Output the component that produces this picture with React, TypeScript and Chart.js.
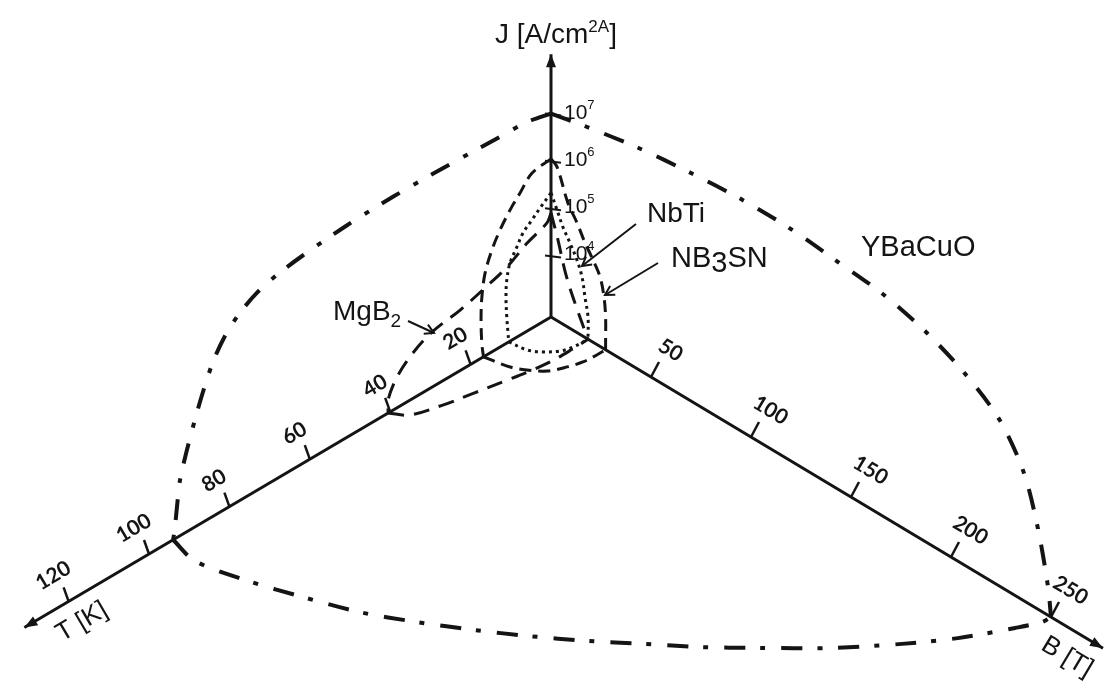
import { useEffect, useRef } from "react";
import { Chart, registerables } from "chart.js";

Chart.register(...registerables);

// ---------------- axes (physical values) ----------------
const J_ORIGIN = 500; // A/cm² at the corner where the three axes meet
const T_AXIS_END = 131; // K
const B_AXIS_END = 276; // T
const J_AXIS_END = 1.8e8; // A/cm²
const T_TICKS = [20, 40, 60, 80, 100, 120];
const B_TICKS = [50, 100, 150, 200, 250];
const J_TICK_EXPONENTS = [4, 5, 6, 7];

// ---------------- YBaCuO (dash-dot) ----------------
const YBCO_JT_T = [0, 6, 14, 26, 39, 51, 62, 68, 73, 77.4, 81.1, 84.1, 86.6, 88.6, 90.6, 92.3, 93.0, 93.6, 94];
const YBCO_JT_J = [1.0e7, 1.32e7, 1.41e7, 1.55e7, 1.62e7, 1.51e7, 1.23e7, 1.02e7, 7.6e6, 4.6e6, 2.3e6, 9.1e5, 2.8e5, 9.1e4, 2.6e4, 7.4e3, 2.4e3, 800, 500];
const YBCO_JB_B = [0, 16.5, 43.5, 70, 95, 120, 143, 166.5, 188, 207.5, 224.5, 236.5, 243.5, 248.5, 250];
const YBCO_JB_J = [1.0e7, 1.45e7, 2.4e7, 3.3e7, 4.0e7, 4.0e7, 3.2e7, 2.45e7, 1.35e7, 5.5e6, 1.6e6, 2.5e5, 2.5e4, 2.0e3, 500];
const YBCO_TB_T = [94, 95.7, 93.2, 89.7, 85.7, 80.7, 75.2, 69.5, 63.2, 56.8, 50.2, 43.2, 34.2, 24.3, 16.1, 6.8, 2.2, 0];
const YBCO_TB_B = [0, 14.3, 35.9, 56.2, 76.7, 94.7, 112.2, 128.6, 145.1, 160.2, 175.9, 190.4, 208.3, 224.4, 235.8, 245.7, 249.9, 250];

// ---------------- Nb3Sn (short dashes) ----------------
const NB3SN_JT_T = [0, 4.7, 7.7, 10.2, 12.7, 14.7, 16.4, 17.2, 17.4, 17.2, 16.8];
const NB3SN_JT_J = [1.1e6, 9.5e5, 5.1e5, 2.95e5, 1.48e5, 7.1e4, 2.8e4, 9.5e3, 3.2e3, 1.0e3, 500];
const NB3SN_TB_T = [16.8, 15.6, 14.1, 11.8, 8.4, 5.4, 2.2, 0];
const NB3SN_TB_B = [0, 10.9, 16.3, 21.7, 25.0, 26.8, 27.3, 27.3];
const NB3SN_JB_B = [0, 3, 8.5, 13, 17, 21, 24.5, 26.5, 27.3, 27.3, 27.3];
const NB3SN_JB_J = [1.1e6, 8.9e5, 2.1e5, 1.05e5, 5.0e4, 2.75e4, 1.48e4, 6.2e3, 2.4e3, 680, 500];

// ---------------- NbTi (dotted) ----------------
const NBTI_JT_T = [0, 2.7, 4.7, 7.0, 8.5, 10.2, 11.0, 11.2, 11.0, 10.7, 10.5];
const NBTI_JT_J = [2.1e5, 1.38e5, 9.8e4, 6.6e4, 4.0e4, 2.24e4, 1.07e4, 4.8e3, 1.78e3, 800, 500];
const NBTI_TB_T = [10.5, 9.9, 8.3, 6.0, 3.5, 0];
const NBTI_TB_B = [0, 7.9, 12.7, 16.5, 18.1, 18.5];
const NBTI_JB_B = [0, 3, 6, 9.5, 13, 15.5, 17, 18.5, 18.5];
const NBTI_JB_J = [2.1e5, 1.1e5, 5.6e4, 3.2e4, 1.7e4, 8.7e3, 3.5e3, 1.48e3, 500];

// ---------------- MgB2 (long dashes) ----------------
const MGB2_JT_T = [0, 1, 6, 11, 16, 22.6, 29.4, 34.3, 38.3, 40.5, 40.5];
const MGB2_JT_J = [7.9e4, 5.5e4, 3.6e4, 2.0e4, 1.41e4, 9.5e3, 7.4e3, 4.6e3, 2.24e3, 955, 500];
const MGB2_TB_T = [40.5, 38.2, 32, 25.6, 19.2, 13.9, 9.3, 4, 0];
const MGB2_TB_B = [0, 6.25, 10.2, 12.9, 15.5, 17.5, 18.7, 18.8, 18.5];
const MGB2_JB_B = [0, 3.5, 7.5, 13, 18.5];
const MGB2_JB_J = [7.9e4, 2.6e4, 6.0e3, 1.58e3, 500];

// ---------------- layout: oblique projection of (T, B, log J) ----------------
const VIEW = { w: 1114, h: 692, ox: 551, oy: 317, tx: -4.02, ty: 2.37, bx: 2.0, by: 1.2, jDecade: 47.3 };
const INK = "#141414";
const FONT = "'Liberation Sans', Arial, sans-serif";
const TICK_FONT = "Lato, 'Liberation Sans', sans-serif";

function project(T: number, B: number, J: number) {
  const d = Math.log10(J) - Math.log10(J_ORIGIN);
  return {
    x: VIEW.ox + T * VIEW.tx + B * VIEW.bx,
    y: VIEW.oy + T * VIEW.ty + B * VIEW.by - d * VIEW.jDecade,
  };
}
const jt = (Ts: number[], Js: number[]) => Ts.map((t, i) => project(t, 0, Js[i]));
const jb = (Bs: number[], Js: number[]) => Bs.map((b, i) => project(0, b, Js[i]));
const tb = (Ts: number[], Bs: number[]) => Ts.map((t, i) => project(t, Bs[i], J_ORIGIN));

const STYLES: Record<string, any> = {
  axis: { borderWidth: 3, borderDash: [], tension: 0 },
  ybco: { borderWidth: 4, borderDash: [21, 15, 5, 16], tension: 0.3 },
  nb3sn: { borderWidth: 3, borderDash: [12, 7], tension: 0.35 },
  mgb2: { borderWidth: 3, borderDash: [16, 10], tension: 0.35 },
  nbti: { borderWidth: 3, borderDash: [3, 4], tension: 0.35 },
};

function ds(label: string, data: { x: number; y: number }[], style: string) {
  return {
    label,
    data,
    showLine: true,
    fill: false,
    pointRadius: 0,
    pointHoverRadius: 0,
    borderColor: INK,
    backgroundColor: INK,
    borderCapStyle: "butt",
    borderJoinStyle: "round",
    cubicInterpolationMode: "default",
    ...STYLES[style],
  };
}

const AXIS_COUNT = 3;
const datasets = [
  ds("T axis", [project(0, 0, J_ORIGIN), project(T_AXIS_END, 0, J_ORIGIN)], "axis"),
  ds("B axis", [project(0, 0, J_ORIGIN), project(0, B_AXIS_END, J_ORIGIN)], "axis"),
  ds("J axis", [project(0, 0, J_ORIGIN), project(0, 0, J_AXIS_END)], "axis"),
  ds("YBaCuO J-T", jt(YBCO_JT_T, YBCO_JT_J), "ybco"),
  ds("YBaCuO J-B", jb(YBCO_JB_B, YBCO_JB_J), "ybco"),
  ds("YBaCuO T-B", tb(YBCO_TB_T, YBCO_TB_B), "ybco"),
  ds("Nb3Sn J-T", jt(NB3SN_JT_T, NB3SN_JT_J), "nb3sn"),
  ds("Nb3Sn T-B", tb(NB3SN_TB_T, NB3SN_TB_B), "nb3sn"),
  ds("Nb3Sn J-B", jb(NB3SN_JB_B, NB3SN_JB_J), "nb3sn"),
  ds("NbTi J-T", jt(NBTI_JT_T, NBTI_JT_J), "nbti"),
  ds("NbTi T-B", tb(NBTI_TB_T, NBTI_TB_B), "nbti"),
  ds("NbTi J-B", jb(NBTI_JB_B, NBTI_JB_J), "nbti"),
  ds("MgB2 J-T", jt(MGB2_JT_T, MGB2_JT_J), "mgb2"),
  ds("MgB2 T-B", tb(MGB2_TB_T, MGB2_TB_B), "mgb2"),
  ds("MgB2 J-B", jb(MGB2_JB_B, MGB2_JB_J), "mgb2"),
];

// annotation layout (in view coordinates)
const LABEL_ARROWS = [
  { from: { x: 408, y: 321 }, to: { x: 434, y: 333 } }, // MgB2
  { from: { x: 636, y: 224 }, to: { x: 582, y: 266 } }, // NbTi
  { from: { x: 658, y: 263 }, to: { x: 605, y: 295 } }, // NB3SN
];

type Run = { text: string; size: number; dy: number };

function drawRuns(ctx: CanvasRenderingContext2D, x: number, y: number, runs: Run[]) {
  let cx = x;
  ctx.textAlign = "left";
  ctx.textBaseline = "alphabetic";
  for (const r of runs) {
    ctx.font = `${r.size}px ${FONT}`;
    ctx.fillText(r.text, cx, y + r.dy);
    cx += ctx.measureText(r.text).width;
  }
}

function arrowHead(ctx: CanvasRenderingContext2D, ax: number, ay: number, bx: number, by: number, len: number, half: number, filled: boolean) {
  const a = Math.atan2(by - ay, bx - ax);
  const c = Math.cos(a), s = Math.sin(a);
  const lx = bx - len * c + half * s, ly = by - len * s - half * c;
  const rx = bx - len * c - half * s, ry = by - len * s + half * c;
  ctx.beginPath();
  ctx.moveTo(lx, ly);
  ctx.lineTo(bx, by);
  ctx.lineTo(rx, ry);
  if (filled) {
    ctx.closePath();
    ctx.fill();
  } else {
    ctx.stroke();
  }
}

const overlay = {
  id: "overlay",
  afterDatasetsDraw(chart: any) {
    const ctx: CanvasRenderingContext2D = chart.ctx;
    const xs = chart.scales.x, ys = chart.scales.y;
    const P = (p: { x: number; y: number }) => ({ x: xs.getPixelForValue(p.x), y: ys.getPixelForValue(p.y) });
    ctx.save();
    ctx.strokeStyle = INK;
    ctx.fillStyle = INK;
    ctx.setLineDash([]);
    ctx.lineCap = "butt";

    // axis arrowheads
    for (let i = 0; i < AXIS_COUNT; i++) {
      const pts = chart.getDatasetMeta(i).data;
      const a = pts[pts.length - 2], b = pts[pts.length - 1];
      arrowHead(ctx, a.x, a.y, b.x, b.y, 13, 5, true);
    }

    // T ticks + labels
    const tLen = Math.hypot(VIEW.tx, VIEW.ty);
    const tr = { x: -VIEW.tx / tLen, y: -VIEW.ty / tLen }; // reading direction
    const tUp = { x: tr.y, y: -tr.x };
    const tAngle = Math.atan2(tr.y, tr.x);
    ctx.lineWidth = 2.5;
    for (const t of T_TICKS) {
      const p = P(project(t, 0, J_ORIGIN));
      ctx.beginPath();
      ctx.moveTo(p.x, p.y);
      ctx.lineTo(p.x - 5, p.y - 14);
      ctx.stroke();
      const cx = p.x + tUp.x * 30, cy = p.y + tUp.y * 30;
      ctx.save();
      ctx.translate(cx, cy);
      ctx.rotate(tAngle);
      ctx.font = `bold 21px ${TICK_FONT}`;
      ctx.textAlign = "center";
      ctx.textBaseline = "middle";
      ctx.fillText(String(t), 0, 0);
      ctx.restore();
    }

    // B ticks + labels
    const bLen = Math.hypot(VIEW.bx, VIEW.by);
    const br = { x: VIEW.bx / bLen, y: VIEW.by / bLen };
    const bUp = { x: br.y, y: -br.x };
    const bAngle = Math.atan2(br.y, br.x);
    for (const b of B_TICKS) {
      const p = P(project(0, b, J_ORIGIN));
      ctx.beginPath();
      ctx.moveTo(p.x, p.y);
      ctx.lineTo(p.x + 8, p.y - 15);
      ctx.stroke();
      const cx = p.x + bUp.x * 33 + br.x * 3, cy = p.y + bUp.y * 33 + br.y * 3;
      ctx.save();
      ctx.translate(cx, cy);
      ctx.rotate(bAngle);
      ctx.font = `bold 21px ${TICK_FONT}`;
      ctx.textAlign = "center";
      ctx.textBaseline = "middle";
      ctx.fillText(String(b), 0, 0);
      ctx.restore();
    }

    // J ticks + labels (10^n)
    for (const e of J_TICK_EXPONENTS) {
      const p = P(project(0, 0, Math.pow(10, e)));
      ctx.lineWidth = 2;
      ctx.beginPath();
      ctx.moveTo(p.x - 6, p.y);
      ctx.lineTo(p.x + 10, p.y + 2);
      ctx.stroke();
      drawRuns(ctx, p.x + 13, p.y + 5, [
        { text: "10", size: 21, dy: 0 },
        { text: String(e), size: 13, dy: -10 },
      ]);
    }

    // axis titles
    drawRuns(ctx, xs.getPixelForValue(495), ys.getPixelForValue(43), [
      { text: "J [A/cm", size: 28, dy: 0 },
      { text: "2A", size: 17, dy: -11 },
      { text: "]", size: 28, dy: 0 },
    ]);
    const drawRotated = (text: string, x: number, y: number, angle: number, size: number) => {
      ctx.save();
      ctx.translate(xs.getPixelForValue(x), ys.getPixelForValue(y));
      ctx.rotate(angle);
      ctx.font = `${size}px ${FONT}`;
      ctx.textAlign = "center";
      ctx.textBaseline = "middle";
      ctx.fillText(text, 0, 0);
      ctx.restore();
    };
    drawRotated("T [K]", 82, 622, tAngle, 26);
    drawRotated("B [T]", 1067, 657, bAngle, 26);

    // material labels
    drawRuns(ctx, xs.getPixelForValue(333), ys.getPixelForValue(320), [
      { text: "MgB", size: 28, dy: 0 },
      { text: "2", size: 19, dy: 7 },
    ]);
    drawRuns(ctx, xs.getPixelForValue(647), ys.getPixelForValue(222), [{ text: "NbTi", size: 28, dy: 0 }]);
    drawRuns(ctx, xs.getPixelForValue(671), ys.getPixelForValue(267), [
      { text: "NB", size: 29, dy: 0 },
      { text: "3", size: 29, dy: 5 },
      { text: "SN", size: 29, dy: 0 },
    ]);
    drawRuns(ctx, xs.getPixelForValue(861), ys.getPixelForValue(256), [{ text: "YBaCuO", size: 29, dy: 0 }]);

    // label leader arrows
    ctx.lineWidth = 2;
    for (const a of LABEL_ARROWS) {
      const f = P(a.from), t = P(a.to);
      ctx.beginPath();
      ctx.moveTo(f.x, f.y);
      ctx.lineTo(t.x, t.y);
      ctx.stroke();
      arrowHead(ctx, f.x, f.y, t.x, t.y, 9, 5, false);
    }
    ctx.restore();
  },
};

export default function App() {
  const ref = useRef<HTMLCanvasElement>(null);
  useEffect(() => {
    if (!ref.current) return;
    const chart = new Chart(ref.current, {
      type: "scatter",
      data: { datasets: datasets as any },
      options: {
        responsive: true,
        maintainAspectRatio: false,
        animation: false,
        events: [],
        layout: { padding: 0 },
        plugins: { legend: { display: false }, tooltip: { enabled: false } },
        scales: {
          x: { type: "linear", display: false, min: 0, max: VIEW.w },
          y: { type: "linear", display: false, min: 0, max: VIEW.h, reverse: true },
        },
      },
      plugins: [overlay],
    });
    return () => chart.destroy();
  }, []);
  return (
    <div style={{ position: "absolute", left: 0, top: 0, width: VIEW.w, height: VIEW.h, background: "#fff" }}>
      <canvas ref={ref} />
    </div>
  );
}
